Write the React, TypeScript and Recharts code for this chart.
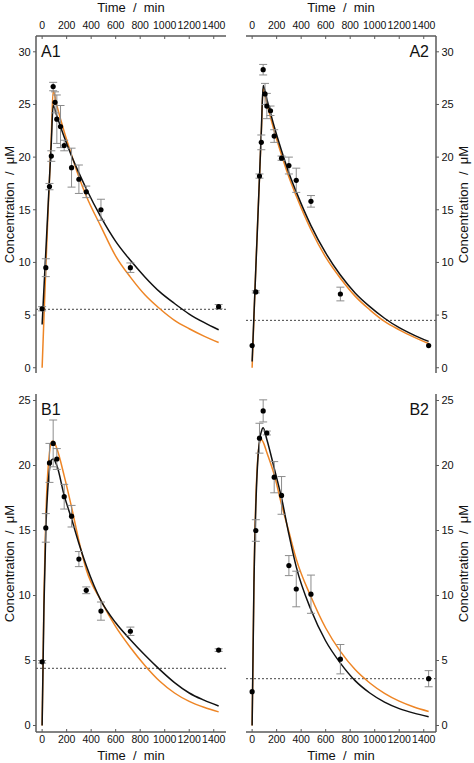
import { ComposedChart, Line, Scatter, XAxis, YAxis, ErrorBar, ReferenceLine } from 'recharts';

// tick labels
const TIME_TICKS = [0, 200, 400, 600, 800, 1000, 1200, 1400];
const CONC_TICKS_A = [0, 5, 10, 15, 20, 25, 30];
const CONC_TICKS_B = [0, 5, 10, 15, 20, 25];

// sampling times of the fitted curves (min)
const CURVE_T = [0, 15, 30, 45, 60, 75, 90, 120, 180, 240, 300, 360, 480, 600, 720, 840, 960, 1080, 1200, 1320, 1440];

// A1
const A1_T = [0, 30, 60, 75, 90, 105, 120, 150, 180, 240, 300, 360, 480, 720, 1440];
const A1_C = [5.6, 9.5, 17.2, 20.1, 26.7, 25.2, 23.6, 22.9, 21.1, 19.0, 17.9, 16.7, 15.0, 9.5, 5.8];
const A1_ERR = [0.2, 0.85, 0.3, 0.5, 0.4, 1.0, 2.3, 2.0, 0.5, 1.85, 1.35, 0.55, 1.0, 0.45, 0.2];
const A1_BLACK = [4.1, 7.6, 11.0, 14.5, 18.0, 21.4, 24.9, 23.9, 21.9, 20.1, 18.5, 17.0, 14.3, 12.0, 10.2, 8.6, 7.2, 6.1, 5.1, 4.3, 3.6];
const A1_ORANGE = [0, 4.8, 9.4, 13.8, 17.9, 22.1, 26.3, 24.9, 22.4, 20.2, 18.1, 16.3, 13.4, 10.6, 8.6, 6.9, 5.6, 4.5, 3.7, 3.0, 2.4];
const A1_LLOQ = 5.55;

// A2
const A2_T = [0, 30, 60, 75, 90, 105, 120, 150, 180, 240, 300, 360, 480, 720, 1440];
const A2_C = [2.1, 7.2, 18.2, 21.4, 28.3, 26.0, 24.85, 24.4, 22.0, 19.9, 19.2, 17.8, 15.8, 7.0, 2.1];
const A2_ERR = [0, 0.1, 0.2, 0.7, 0.5, 1.0, 1.2, 0.45, 0.6, 0.2, 0.8, 1.15, 0.55, 0.65, 0];
const A2_BLACK = [0.6, 5.0, 9.4, 13.7, 18.1, 22.5, 26.8, 25.5, 22.9, 20.6, 18.5, 16.7, 13.5, 10.9, 8.8, 7.1, 5.8, 4.7, 3.8, 3.1, 2.5];
const A2_ORANGE = [0, 4.8, 9.5, 13.9, 18.0, 22.3, 26.5, 25.1, 22.5, 20.2, 18.1, 16.3, 13.1, 10.5, 8.5, 6.8, 5.5, 4.4, 3.6, 2.9, 2.3];
const A2_LLOQ = 4.5;

// B1
const B1_T = [0, 30, 60, 90, 120, 180, 240, 300, 360, 480, 720, 1440];
const B1_C = [4.9, 15.2, 20.2, 21.7, 20.5, 17.6, 16.1, 12.8, 10.4, 8.8, 7.25, 5.8];
const B1_ERR = [0.1, 1.1, 1.5, 1.8, 0.8, 0.95, 0.83, 0.58, 0.26, 0.7, 0.32, 0.1];
const B1_BLACK = [0, 9.2, 15.0, 18.0, 19.7, 20.4, 20.5, 20.0, 17.7, 15.9, 14.0, 12.3, 9.6, 7.9, 6.6, 5.4, 4.3, 3.3, 2.5, 1.95, 1.5];
const B1_ORANGE = [0, 10.0, 16.0, 19.3, 21.0, 21.8, 21.9, 21.3, 19.2, 16.8, 14.2, 12.0, 9.6, 7.6, 6.0, 4.6, 3.4, 2.5, 1.85, 1.4, 1.05];
const B1_LLOQ = 4.4;

// B2
const B2_T = [0, 30, 60, 90, 120, 180, 240, 300, 360, 480, 720, 1440];
const B2_C = [2.6, 15.0, 22.1, 24.2, 22.5, 19.1, 17.7, 12.3, 10.5, 10.1, 5.1, 3.6];
const B2_ERR = [0, 0.83, 1.15, 0.85, 0.15, 1.2, 1.45, 0.77, 1.37, 1.47, 1.13, 0.62];
const B2_BLACK = [0, 11.0, 16.8, 20.2, 21.9, 22.6, 22.9, 22.0, 19.8, 17.5, 14.7, 12.2, 8.9, 6.5, 4.8, 3.45, 2.5, 1.8, 1.3, 0.95, 0.68];
const B2_ORANGE = [0, 11.3, 17.3, 20.4, 21.7, 22.0, 21.8, 21.0, 19.3, 17.0, 14.9, 12.8, 9.9, 7.5, 5.7, 4.3, 3.27, 2.47, 1.87, 1.42, 1.08];
const B2_LLOQ = 3.6;

const FONT = '"Liberation Sans", Arial, Helvetica, sans-serif';
const FRAME = '#5a5a5a';
const ORANGE = '#EE8525';
const X_DOMAIN = [-50, 1500];

const toPoints = (t: number[], c: number[], e: number[]) => t.map((tt, i) => ({ t: tt, c: c[i], e: e[i] }));
const toCurve = (c: number[]) => CURVE_T.map((tt, i) => ({ t: tt, c: c[i] }));

const Dot = (props: any) => <circle cx={props.cx} cy={props.cy} r={2.6} fill="#000" />;

interface PanelProps {
  left: number;
  top: number;
  width: number;
  height: number;
  plot: { x: number; y: number; w: number; h: number };
  xSide: 'top' | 'bottom';
  ySide: 'left' | 'right';
  yTicks: number[];
  yDomain: number[];
  points: { t: number; c: number; e: number }[];
  black: { t: number; c: number }[];
  orange: { t: number; c: number }[];
  lloq: number;
}

function Panel(p: PanelProps) {
  const YW = 36;
  const XH = 34;
  const { x, y, w, h } = p.plot;
  const margin = {
    left: p.ySide === 'left' ? x - YW : x,
    right: p.ySide === 'right' ? p.width - (x + w) - YW : p.width - (x + w),
    top: p.xSide === 'top' ? y - XH : y,
    bottom: p.xSide === 'bottom' ? p.height - (y + h) - XH : p.height - (y + h),
  };
  const axisLine = { stroke: FRAME, strokeWidth: 1.5 };
  const otherX = p.xSide === 'top' ? 'bottom' : 'top';
  const otherY = p.ySide === 'left' ? 'right' : 'left';

  // tick label baselines, relative to the plot frame
  const xLabelY = p.xSide === 'top' ? y - 6.7 : y + h + 11;
  const renderXTick = (tp: any) => (
    <text x={tp.x} y={xLabelY} textAnchor="middle" fill="#111" fontSize={10.5} fontFamily={FONT}>
      {tp.payload.value}
    </text>
  );
  const renderYTick = (tp: any) => (
    <text
      x={p.ySide === 'left' ? x - 5.3 : x + w + 5.5}
      y={tp.y + 3.9}
      textAnchor={p.ySide === 'left' ? 'end' : 'start'}
      fill="#111"
      fontSize={11}
      fontFamily={FONT}
    >
      {tp.payload.value}
    </text>
  );

  return (
    <div style={{ position: 'absolute', left: p.left, top: p.top }}>
      <ComposedChart width={p.width} height={p.height} margin={margin}>
        <XAxis
          xAxisId="main"
          dataKey="t"
          type="number"
          orientation={p.xSide}
          domain={X_DOMAIN}
          ticks={TIME_TICKS}
          interval={0}
          allowDataOverflow
          height={XH}
          tick={renderXTick}
          tickSize={-3}
          tickLine={{ stroke: FRAME }}
          axisLine={axisLine}
        />
        <XAxis
          xAxisId="frame"
          type="number"
          orientation={otherX}
          domain={X_DOMAIN}
          allowDataOverflow
          height={0}
          tick={false}
          tickLine={false}
          axisLine={axisLine}
        />
        <YAxis
          yAxisId="main"
          type="number"
          orientation={p.ySide}
          domain={p.yDomain}
          ticks={p.yTicks}
          interval={0}
          allowDataOverflow
          width={YW}
          tick={renderYTick}
          tickSize={3}
          tickLine={{ stroke: FRAME }}
          axisLine={axisLine}
        />
        <YAxis
          yAxisId="frame"
          type="number"
          orientation={otherY}
          domain={p.yDomain}
          allowDataOverflow
          width={0}
          tick={false}
          tickLine={false}
          axisLine={axisLine}
        />
        <ReferenceLine
          xAxisId="main"
          yAxisId="main"
          y={p.lloq}
          stroke="#444"
          strokeWidth={1}
          strokeDasharray="2 2"
        />
        <Line
          xAxisId="main"
          yAxisId="main"
          data={p.orange}
          dataKey="c"
          type="monotone"
          stroke={ORANGE}
          strokeWidth={1.5}
          dot={false}
          isAnimationActive={false}
        />
        <Line
          xAxisId="main"
          yAxisId="main"
          data={p.black}
          dataKey="c"
          type="monotone"
          stroke="#111"
          strokeWidth={1.5}
          dot={false}
          isAnimationActive={false}
        />
        <Scatter
          xAxisId="main"
          yAxisId="main"
          data={p.points}
          dataKey="c"
          shape={Dot}
          isAnimationActive={false}
        >
          <ErrorBar dataKey="e" direction="y" width={4} stroke="#8c8c8c" strokeWidth={1} />
        </Scatter>
      </ComposedChart>
    </div>
  );
}

const titleStyle: any = {
  position: 'absolute',
  fontFamily: FONT,
  fontSize: 13,
  lineHeight: '15px',
  color: '#111',
  whiteSpace: 'pre',
  textAlign: 'center',
};

function TimeTitle({ x, top }: { x: number; top: number }) {
  return <div style={{ ...titleStyle, left: x, width: 190, top }}>{'Time  /  min'}</div>;
}

function ConcTitle({ cx, cy }: { cx: number; cy: number }) {
  return (
    <div
      style={{
        ...titleStyle,
        left: cx - 90,
        top: cy - 7.5,
        width: 180,
        transform: 'rotate(-90deg)',
      }}
    >
      {'Concentration  /  \u03bcM'}
    </div>
  );
}

function PanelName({ text, x, top, right }: { text: string; x: number; top: number; right?: boolean }) {
  const style: any = {
    position: 'absolute',
    fontFamily: FONT,
    fontSize: 16,
    lineHeight: '16px',
    color: '#111',
    top,
  };
  if (right) {
    style.left = x - 60;
    style.width = 60;
    style.textAlign = 'right';
  } else {
    style.left = x;
  }
  return <div style={style}>{text}</div>;
}

export default function App() {
  const topPlot = { y: 36, h: 337 };
  const botPlot = { y: 14, h: 338 };
  return (
    <div
      style={{
        position: 'absolute',
        left: 0,
        top: 0,
        width: 474,
        height: 763,
        overflow: 'hidden',
        background: '#fff',
      }}
    >
      <Panel
        left={0}
        top={0}
        width={237}
        height={380}
        plot={{ x: 36, w: 190, ...topPlot }}
        xSide="top"
        ySide="left"
        yTicks={CONC_TICKS_A}
        yDomain={[-0.5, 31.5]}
        points={toPoints(A1_T, A1_C, A1_ERR)}
        black={toCurve(A1_BLACK)}
        orange={toCurve(A1_ORANGE)}
        lloq={A1_LLOQ}
      />
      <Panel
        left={237}
        top={0}
        width={237}
        height={380}
        plot={{ x: 9, w: 190, ...topPlot }}
        xSide="top"
        ySide="right"
        yTicks={CONC_TICKS_A}
        yDomain={[-0.5, 31.5]}
        points={toPoints(A2_T, A2_C, A2_ERR)}
        black={toCurve(A2_BLACK)}
        orange={toCurve(A2_ORANGE)}
        lloq={A2_LLOQ}
      />
      <Panel
        left={0}
        top={380}
        width={237}
        height={383}
        plot={{ x: 36, w: 190, ...botPlot }}
        xSide="bottom"
        ySide="left"
        yTicks={CONC_TICKS_B}
        yDomain={[-0.5, 25.5]}
        points={toPoints(B1_T, B1_C, B1_ERR)}
        black={toCurve(B1_BLACK)}
        orange={toCurve(B1_ORANGE)}
        lloq={B1_LLOQ}
      />
      <Panel
        left={237}
        top={380}
        width={237}
        height={383}
        plot={{ x: 9, w: 190, ...botPlot }}
        xSide="bottom"
        ySide="right"
        yTicks={CONC_TICKS_B}
        yDomain={[-0.5, 25.5]}
        points={toPoints(B2_T, B2_C, B2_ERR)}
        black={toCurve(B2_BLACK)}
        orange={toCurve(B2_ORANGE)}
        lloq={B2_LLOQ}
      />

      <TimeTitle x={36} top={0} />
      <TimeTitle x={246} top={0} />
      <TimeTitle x={36} top={748} />
      <TimeTitle x={246} top={748} />

      <ConcTitle cx={8.5} cy={204.5} />
      <ConcTitle cx={8.5} cy={563} />
      <ConcTitle cx={463} cy={204.5} />
      <ConcTitle cx={463} cy={563} />

      <PanelName text="A1" x={41} top={44} />
      <PanelName text="A2" x={429} top={44} right />
      <PanelName text="B1" x={41} top={402} />
      <PanelName text="B2" x={429} top={402} right />
    </div>
  );
}
